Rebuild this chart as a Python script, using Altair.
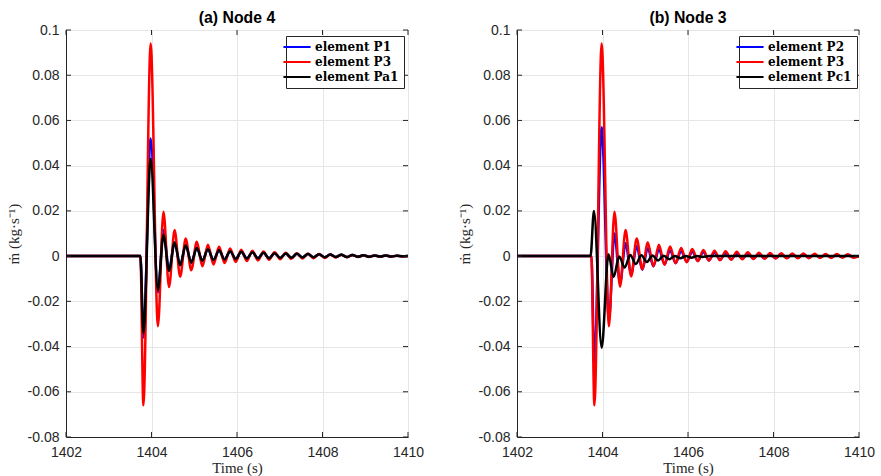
import altair as alt
import pandas as pd

# Shared extremum times (s) for the P-series oscillations
T_A = [1402.0, 1403.74, 1403.81, 1403.98, 1404.15, 1404.28, 1404.41, 1404.54, 1404.67, 1404.80,
       1404.93, 1405.06, 1405.19, 1405.32, 1405.45, 1405.58, 1405.71, 1405.84, 1405.97, 1406.10,
       1406.23, 1406.36, 1406.49, 1406.62, 1406.75, 1406.88, 1407.01, 1407.14, 1407.27, 1407.40,
       1407.53, 1407.66, 1407.79, 1407.92, 1408.05, 1408.18, 1408.31, 1408.44, 1408.57, 1408.70,
       1408.83, 1408.96, 1409.09, 1409.22, 1409.35, 1409.48, 1409.61, 1409.74, 1409.87, 1410.0]

# (a) Node 4
RED_A = [0, 0, -0.066, 0.094, -0.031, 0.0196, -0.0137, 0.0115, -0.0091, 0.0078,
         -0.0062, 0.0063, -0.0045, 0.0050, -0.0037, 0.0041, -0.0031, 0.0034, -0.0026, 0.0028,
         -0.0022, 0.0024, -0.0019, 0.0020, -0.0016, 0.0017, -0.0014, 0.0015, -0.0012, 0.0013,
         -0.0011, 0.0011, -0.0009, 0.0009, -0.0008, 0.0007, -0.0006, 0.0006, -0.0005, 0.0005,
         -0.0004, 0.0004, -0.0004, 0.0003, -0.0003, 0.0003, -0.0002, 0.0002, -0.0002, 0]
BLUE_A = [0, 0, -0.036, 0.052, -0.016, 0.0115, -0.0062, 0.0060, -0.0040, 0.0048,
          -0.0030, 0.0038, -0.0022, 0.0030, -0.0018, 0.0025, -0.0015, 0.0022, -0.0013, 0.0019,
          -0.0011, 0.0017, -0.0010, 0.0015, -0.0009, 0.0013, -0.0008, 0.0011, -0.0007, 0.0010,
          -0.0006, 0.0009, -0.0005, 0.0008, -0.0005, 0.0007, -0.0004, 0.0006, -0.0004, 0.0005,
          -0.0003, 0.0004, -0.0003, 0.0003, -0.0002, 0.0003, -0.0002, 0.0002, -0.0001, 0]
BLACK_A = [0, 0, -0.034, 0.043, -0.015, 0.0093, -0.0065, 0.0060, -0.0040, 0.0048,
           -0.0028, 0.0036, -0.0020, 0.0030, -0.0017, 0.0026, -0.0015, 0.0022, -0.0013, 0.0019,
           -0.0011, 0.0017, -0.0010, 0.0015, -0.0009, 0.0013, -0.0008, 0.0011, -0.0007, 0.0010,
           -0.0006, 0.0009, -0.0005, 0.0008, -0.0005, 0.0007, -0.0004, 0.0006, -0.0004, 0.0005,
           -0.0003, 0.0004, -0.0003, 0.0003, -0.0002, 0.0003, -0.0002, 0.0002, -0.0001, 0]

# (b) Node 3
RED_B = [0, 0, -0.066, 0.094, -0.031, 0.0196, -0.0135, 0.0115, -0.0090, 0.0078,
         -0.0058, 0.0060, -0.0045, 0.0050, -0.0038, 0.0042, -0.0032, 0.0036, -0.0027, 0.0031,
         -0.0023, 0.0027, -0.0020, 0.0024, -0.0018, 0.0021, -0.0016, 0.0019, -0.0014, 0.0017,
         -0.0013, 0.0015, -0.0012, 0.0014, -0.0011, 0.0013, -0.0010, 0.0012, -0.0009, 0.0011,
         -0.0009, 0.0010, -0.0008, 0.0009, -0.0008, 0.0009, -0.0007, 0.0008, -0.0007, 0]
BLUE_B = [0, 0, -0.047, 0.057, -0.028, 0.0100, -0.0120, 0.0057, -0.0080, 0.0045,
          -0.0060, 0.0035, -0.0045, 0.0030, -0.0036, 0.0025, -0.0030, 0.0022, -0.0025, 0.0019,
          -0.0021, 0.0017, -0.0018, 0.0015, -0.0016, 0.0013, -0.0014, 0.0012, -0.0012, 0.0011,
          -0.0011, 0.0010, -0.0010, 0.0009, -0.0009, 0.0008, -0.0008, 0.0007, -0.0007, 0.0007,
          -0.0006, 0.0006, -0.0006, 0.0005, -0.0005, 0.0005, -0.0004, 0.0004, -0.0004, 0]
T_C = [1402.0, 1403.72, 1403.80, 1403.98, 1404.14, 1404.26, 1404.39, 1404.52, 1404.65, 1404.78,
       1404.91, 1405.04, 1405.17, 1405.30, 1405.43, 1405.56, 1405.69, 1405.82, 1405.95, 1406.08,
       1406.21, 1406.34, 1406.50, 1410.0]
BLACK_C = [0, 0, 0.0200, -0.0405, 0.0008, -0.0092, -0.0002, -0.0050, 0.0005, -0.0035,
           0.0004, -0.0026, 0.0003, -0.0019, 0.0002, -0.0014, 0.0001, -0.0010, 0.0001, -0.0007,
           0.0, -0.0004, 0, 0]

NAMES_A = ["element P1", "element P3", "element Pa1"]
NAMES_B = ["element P2", "element P3", "element Pc1"]
COLORS = ["#0000ff", "#ff0000", "#000000"]

XTICKS = [1402, 1404, 1406, 1408, 1410]
YTICKS = [-0.08, -0.06, -0.04, -0.02, 0, 0.02, 0.04, 0.06, 0.08, 0.1]

W, H = 342, 407
AXC = "#262626"


def frame(t, v, name):
    return pd.DataFrame({"t": t, "v": v, "series": name})


def panel(title, frames, names, legend_x):
    xs = alt.Scale(domain=[1402, 1410], nice=False, zero=False)
    ys = alt.Scale(domain=[-0.08, 0.1], nice=False, zero=False)
    cs = alt.Scale(domain=names, range=COLORS)
    x_enc = alt.X("t:Q", scale=xs, axis=alt.Axis(values=XTICKS, format="d", title="Time (s)"))
    y_enc = alt.Y("v:Q", scale=ys, axis=alt.Axis(
        values=YTICKS, title="ṁ  (kg·s⁻¹)",
        labelExpr="datum.value == 0 ? '0' : toString(round(datum.value*100)/100)"))
    layers = []
    for df in frames:
        layers.append(
            alt.Chart(df).mark_line(interpolate="monotone", strokeWidth=2.5, clip=True).encode(
                x=x_enc, y=y_enc,
                color=alt.Color("series:N", scale=cs, legend=alt.Legend(
                    title=None, orient="none", legendX=legend_x, legendY=6,
                    fillColor="white", strokeColor=AXC, padding=5,
                    symbolType="M-4,0H4", symbolSize=46, symbolStrokeWidth=2,
                    labelFont="DejaVu Serif", labelFontWeight="bold", labelFontSize=12,
                    labelColor="black", labelOffset=12, rowPadding=3))
            )
        )
    xt = pd.DataFrame({"t": XTICKS})
    yt = pd.DataFrame({"v": YTICKS})
    tick = dict(color=AXC, strokeWidth=1)
    layers += [
        alt.Chart(xt).mark_rule(**tick).encode(x="t:Q", y=alt.value(H), y2=alt.value(H - 5)),
        alt.Chart(xt).mark_rule(**tick).encode(x="t:Q", y=alt.value(0), y2=alt.value(5)),
        alt.Chart(yt).mark_rule(**tick).encode(y="v:Q", x=alt.value(0), x2=alt.value(5)),
        alt.Chart(yt).mark_rule(**tick).encode(y="v:Q", x=alt.value(W), x2=alt.value(W - 5)),
    ]
    return alt.layer(*layers).properties(
        width=W, height=H,
        title=alt.TitleParams(text=title, font="Liberation Sans", fontSize=15.8,
                              fontWeight="bold", color="black", offset=-4, anchor="middle"))


left = panel("(a) Node 4",
             [frame(T_A, BLUE_A, NAMES_A[0]), frame(T_A, RED_A, NAMES_A[1]), frame(T_A, BLACK_A, NAMES_A[2])],
             NAMES_A, 220)
right = panel("(b) Node 3",
              [frame(T_A, BLUE_B, NAMES_B[0]), frame(T_A, RED_B, NAMES_B[1]), frame(T_C, BLACK_C, NAMES_B[2])],
              NAMES_B, 222)

chart = alt.hconcat(left, right, spacing=31).resolve_scale(color="independent").properties(
    padding={"left": 5, "top": 9, "right": 0, "bottom": 0}, background="white"
).configure_view(stroke=AXC, strokeWidth=1).configure_axis(
    domainColor=AXC, gridColor="#e6e6e6", gridWidth=1, ticks=False, labelFlush=False,
    labelFont="Liberation Sans", labelFontSize=14, labelColor=AXC, labelPadding=7,
    titleFont="Liberation Serif", titleFontSize=15, titleFontWeight="normal", titleColor=AXC,
    titlePadding=6
).configure_axisX(labelPadding=8, titlePadding=1, titleFontSize=15)

chart.save("out.html", embed_options={"renderer": "svg", "actions": False})
